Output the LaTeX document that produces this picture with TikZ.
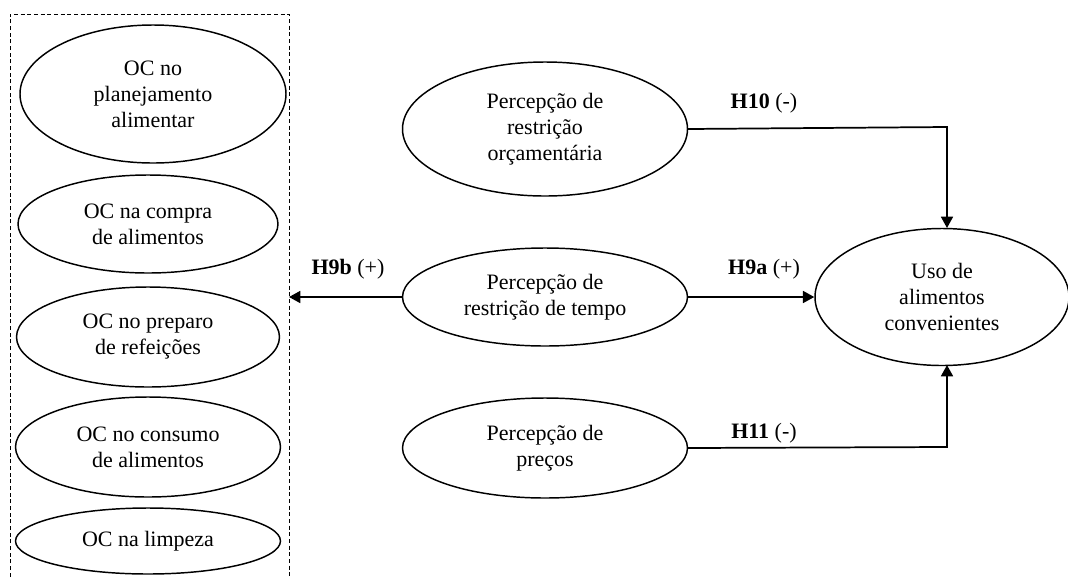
\documentclass[tikz,border=0pt]{standalone}
\usepackage{fontspec}
\setmainfont{Liberation Serif}
\usetikzlibrary{shapes.geometric,arrows.meta}
\begin{document}
\begin{tikzpicture}[x=0.75pt,y=-0.75pt,
  font=\fontsize{16.5}{19.5}\selectfont,
  construct/.style={ellipse,draw,line width=1.1pt,inner sep=0pt,align=center},
  path/.style={line width=1.3pt,-{Triangle[length=8.5pt,width=9pt]}},
  hyp/.style={inner sep=0pt}]
\useasboundingbox (0,0) rectangle (1068,576);
\clip (0,0) rectangle (1068,576);

% dashed frame grouping the five OC dimensions
\draw[line width=0.7pt,dash pattern=on 3pt off 2pt] (10,590) -- (10,14) -- (289,14) -- (289,590);
\coordinate (frameR) at (289,297);

% OC dimensions
\node[construct,minimum width=266*0.75pt,minimum height=138*0.75pt] (oc1) at (153,94) {OC no\\planejamento\\alimentar};
\node[construct,minimum width=260*0.75pt,minimum height=98*0.75pt] (oc2) at (148,224) {OC na compra\\de alimentos};
\node[construct,minimum width=263*0.75pt,minimum height=100*0.75pt] (oc3) at (148,337) {OC no preparo\\de refeições};
\node[construct,minimum width=265*0.75pt,minimum height=100*0.75pt] (oc4) at (148,447) {OC no consumo\\de alimentos};
\node[construct,minimum width=265*0.75pt,minimum height=66*0.75pt] (oc5) at (148,541) {OC na limpeza};

% perceptions
\node[construct,minimum width=285*0.75pt,minimum height=134*0.75pt] (orc) at (545,129) {Percepção de\\restrição\\orçamentária};
\node[construct,minimum width=285*0.75pt,minimum height=98*0.75pt] (tempo) at (545,297) {Percepção de\\restrição de tempo};
\node[construct,minimum width=285*0.75pt,minimum height=100*0.75pt] (preco) at (545,448) {Percepção de\\preços};

% outcome
\node[construct,minimum width=254*0.75pt,minimum height=137*0.75pt] (uso) at (942,297) {Uso de\\alimentos\\convenientes};

% hypothesised paths
\draw[path] (orc.east) -- (947,127) -- (947,228);
\draw[path] (preco.east) -- (947,447) -- (947,365);
\draw[path] (tempo.east) -- (uso.west);
\draw[path] (tempo.west) -- (frameR);

% path labels
\node[hyp] (h10) at (764,103) {\textbf{H10} (-)};
\node[hyp] (h9a) at (764,269) {\textbf{H9a} (+)};
\node[hyp] (h11) at (764,433) {\textbf{H11} (-)};
\node[hyp] (h9b) at (348,269) {\textbf{H9b} (+)};
\end{tikzpicture}
\end{document}
